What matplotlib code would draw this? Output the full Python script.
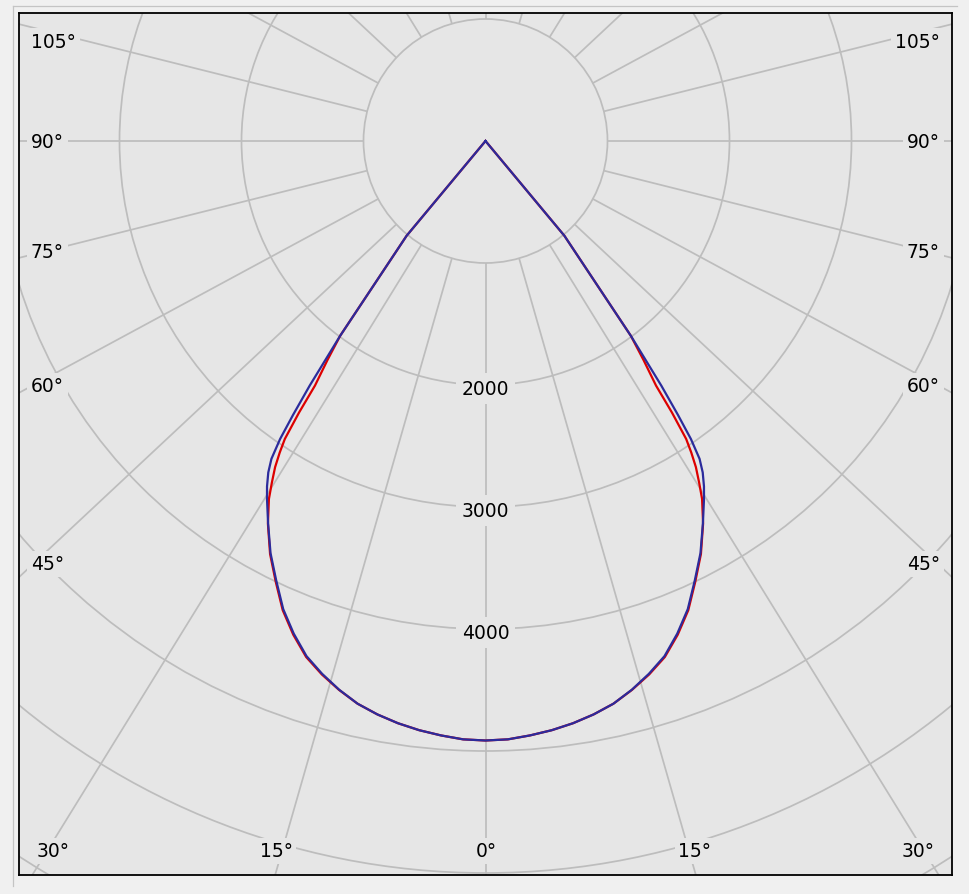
import numpy as np
import matplotlib
matplotlib.use("Agg")
import matplotlib.pyplot as plt
from matplotlib.patches import Circle
from matplotlib.lines import Line2D

# ---------------- data ----------------
ring_values = [1000, 2000, 3000, 4000, 5000, 6000, 7000]
ring_label_values = [2000, 3000, 4000]
grid_angles = [0, 15, 30, 45, 60, 75, 90, 105, 120, 135, 150, 165, 180]

side_labels = ["105°", "90°", "75°", "60°", "45°"]
bottom_labels = ["30°", "15°", "0°", "15°", "30°"]

# C0/C180 plane (red)
red_angles = [0, 2, 4, 6, 8, 10, 12, 14, 16, 18, 20, 22, 24, 26, 28, 29.5, 30.3, 31.1, 31.7,
              32.2, 32.7, 33.1, 34.0, 34.9, 37.9, 40, 90]
red_values = [4914, 4908, 4886, 4860, 4826, 4783, 4730, 4657, 4574, 4478, 4343, 4190, 4000,
              3818, 3608, 3429, 3305, 3181, 3060, 2944, 2700, 2444, 2215, 1992, 1010, 0, 0]

# C90/C270 plane (blue)
blue_angles = [0, 2, 4, 6, 8, 10, 12, 14, 16, 18, 20, 22, 24, 26, 28, 29.7, 30.6, 31.5, 32.2,
               32.8, 33.3, 33.9, 34.9, 37.9, 40, 90]
blue_values = [4914, 4908, 4886, 4860, 4826, 4783, 4730, 4655, 4568, 4470, 4333, 4180, 3990,
               3810, 3605, 3439, 3350, 3248, 3141, 2967, 2745, 2469, 1992, 1010, 0, 0]

# ---------------- layout ----------------
W, H = 969, 895
CX, CY = 485.5, 142.0      # pole position in pixels
S = 0.122                  # pixels per cd
K = 0.935                  # angular compression of the diagram
FL, FR, FT, FB = 19, 952, 14, 876   # frame in pixels

BG_IN = "#e6e6e6"
BG_OUT = "#f0f0f0"
GRID = "#bdbdbd"
RED = "#dd0000"
BLUE = "#2b2b9c"
FS = 13.5

def to_xy(gamma, inten, side):
    g = np.radians(np.asarray(gamma, dtype=float))
    th = np.arctan2(np.sin(g), K * np.cos(g))
    inten = np.asarray(inten, dtype=float)
    return side * inten * np.sin(th), -inten * np.cos(th)

def px2data(px, py):
    return (px - CX) / S, (CY - py) / S

fig = plt.figure(figsize=(W / 100, H / 100), dpi=100, facecolor=BG_OUT)
ax = fig.add_axes([FL / W, 1 - FB / H, (FR - FL) / W, (FB - FT) / H])
ax.set_facecolor(BG_IN)
x0, y1 = px2data(FL, FT)
x1, y0 = px2data(FR, FB)
ax.set_xlim(x0, x1)
ax.set_ylim(y0, y1)
ax.set_xticks([])
ax.set_yticks([])
for sp in ax.spines.values():
    sp.set_color("black")
    sp.set_linewidth(1.3)

# outer panel border (left & top)
fig.add_artist(Line2D([12.7 / W, 12.7 / W], [1 - 887 / H, 1 - 6.7 / H],
                      transform=fig.transFigure, color="#c4c4c4", lw=0.9))
fig.add_artist(Line2D([12.7 / W, 957 / W], [1 - 6.7 / H, 1 - 6.7 / H],
                      transform=fig.transFigure, color="#c4c4c4", lw=0.9))

# rings
for r in ring_values:
    ax.add_patch(Circle((0, 0), r, fill=False, edgecolor=GRID, lw=1.25, zorder=1))

# radial lines (start at the first ring)
r_in, r_out = ring_values[0], 20000
for a in grid_angles:
    sides = [1] if a in (0, 180) else [-1, 1]
    for sd in sides:
        xs, ys = to_xy([a, a], [r_in, r_out], sd)
        ax.plot(xs, ys, color=GRID, lw=1.25, zorder=1, solid_capstyle="butt")

# ring labels
for v in ring_label_values:
    ax.text(0, -v - 25, f"{v}", ha="center", va="center", fontsize=FS, zorder=3,
            bbox=dict(boxstyle="square,pad=0.32", fc=BG_IN, ec="none"))

# angle labels
side_y = [42, 142, 253, 387, 565]
for lab, py in zip(side_labels, side_y):
    xl, yl = px2data(31, py)
    ax.text(xl, yl, lab, ha="left", va="center", fontsize=FS, zorder=3,
            bbox=dict(boxstyle="square,pad=0.2", fc=BG_IN, ec="none"))
    xr, yr = px2data(940, py)
    ax.text(xr, yr, lab, ha="right", va="center", fontsize=FS, zorder=3,
            bbox=dict(boxstyle="square,pad=0.2", fc=BG_IN, ec="none"))
bottom_x = [53, 276, 486, 695, 918]
for lab, px in zip(bottom_labels, bottom_x):
    xb, yb = px2data(px, 852)
    ax.text(xb, yb, lab, ha="center", va="center", fontsize=FS, zorder=3,
            bbox=dict(boxstyle="square,pad=0.2", fc=BG_IN, ec="none"))

# curves
def full_curve(angles, values):
    angles = np.asarray(angles, dtype=float)
    values = np.asarray(values, dtype=float)
    xl, yl = to_xy(angles[::-1], values[::-1], -1)
    xr, yr = to_xy(angles[1:], values[1:], 1)
    return np.concatenate([xl, xr]), np.concatenate([yl, yr])

xr_, yr_ = full_curve(red_angles, red_values)
ax.plot(xr_, yr_, color=RED, lw=1.6, zorder=4, solid_joinstyle="round")
xb_, yb_ = full_curve(blue_angles, blue_values)
ax.plot(xb_, yb_, color=BLUE, lw=1.6, zorder=5, solid_joinstyle="round")

fig.savefig("out.png", dpi=100, facecolor=BG_OUT)
